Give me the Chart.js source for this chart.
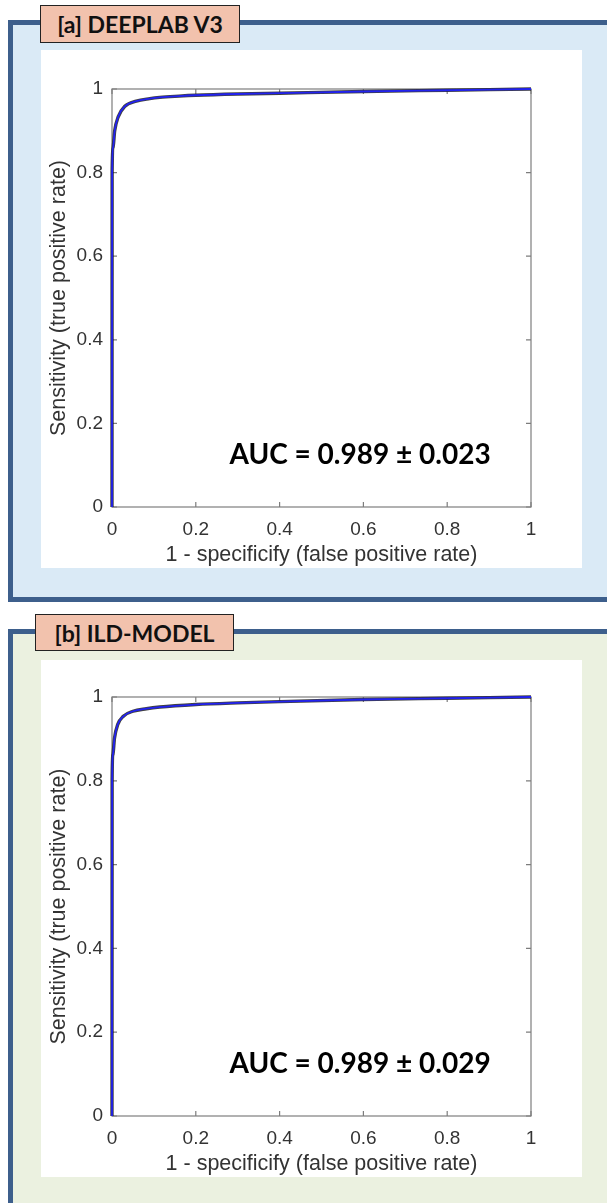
<!DOCTYPE html>
<html>
<head>
<meta charset="utf-8">
<script src="https://cdn.jsdelivr.net/npm/chart.js@4.4.0/dist/chart.umd.min.js"></script>
<style>
  html, body { margin: 0; padding: 0; background: #fff; width: 607px; height: 1203px; overflow: hidden; }
  .panel { position: absolute; box-sizing: border-box; border: 5px solid #3d5f8c; border-right: none; }
  #panelA { left: 8px; top: 20px; width: 610px; height: 582px; background: #daeaf6; }
  #panelB { left: 8px; top: 629px; width: 610px; height: 600px; background: #ebf1e0; border-bottom: none; }
  .tag {
    position: absolute; box-sizing: border-box; border: 1.5px solid #222; background: #f2c2ad;
    font: bold 23px Lato, sans-serif; color: #111;
    display: flex; align-items: center; justify-content: center;
  }
  #tagA { left: 40px; top: 5px; width: 200px; height: 38px; }
  #tagB { left: 35px; top: 614px; width: 199px; height: 37px; }
  .plot { position: absolute; background: #fff; }
  #plotA { left: 41px; top: 50px; width: 541px; height: 518px; }
  #plotB { left: 41px; top: 660px; width: 541px; height: 517px; }
</style>
</head>
<body>
<div class="panel" id="panelA"></div>
<div class="panel" id="panelB"></div>
<div class="tag" id="tagA">[a] DEEPLAB V3</div>
<div class="tag" id="tagB">[b] ILD-MODEL</div>
<div class="plot" id="plotA"><canvas id="rocA" width="541" height="518"></canvas></div>
<div class="plot" id="plotB"><canvas id="rocB" width="541" height="517"></canvas></div>

<script>
// --- DATA ---

// ROC curve, panel [a] DEEPLAB V3
const fprA = [0, 0.0003, 0.0024, 0.0064, 0.015, 0.03, 0.058, 0.09, 0.114, 0.16, 0.2, 0.3, 0.4, 0.6, 0.8, 1];
const tprA = [0, 0.80, 0.86, 0.90, 0.934, 0.958, 0.971, 0.977, 0.980, 0.983, 0.985, 0.988, 0.990, 0.994, 0.997, 1];

// ROC curve, panel [b] ILD-MODEL
const fprB = [0, 0.0003, 0.002, 0.006, 0.0135, 0.027, 0.05, 0.082, 0.114, 0.2, 0.3, 0.4, 0.6, 0.8, 1];
const tprB = [0, 0.80, 0.862, 0.902, 0.934, 0.954, 0.966, 0.972, 0.976, 0.982, 0.986, 0.989, 0.994, 0.997, 1];

// Axis ticks (same for x and y)
const tickValues = [0, 0.2, 0.4, 0.6, 0.8, 1];
const tickLabels = ['0', '0.2', '0.4', '0.6', '0.8', '1'];

const aucA = 'AUC = 0.989 ± 0.023';
const aucB = 'AUC = 0.989 ± 0.029';

// --- RENDERING ---

const TICK_LEN = 5;
const TICK_FONT = { family: 'Liberation Sans, Arial, sans-serif', size: 19 };
const TITLE_FONT = { family: 'Liberation Sans, Arial, sans-serif', size: 21.5 };

/**
 * MATLAB-style box with inward ticks on all four sides + AUC label.
 */
const matlabAxes = {
  id: 'matlabAxes',
  beforeDatasetsDraw(chart) {
    const { ctx, chartArea: a, scales: { x, y } } = chart;
    ctx.save();
    ctx.strokeStyle = '#7d7d7d';
    ctx.lineWidth = 1.2;
    ctx.strokeRect(a.left, a.top, a.right - a.left, a.bottom - a.top);
    ctx.beginPath();
    tickValues.forEach(v => {
      const px = x.getPixelForValue(v);
      const py = y.getPixelForValue(v);
      ctx.moveTo(px, a.bottom); ctx.lineTo(px, a.bottom - TICK_LEN);
      ctx.moveTo(px, a.top); ctx.lineTo(px, a.top + TICK_LEN);
      ctx.moveTo(a.left, py); ctx.lineTo(a.left + TICK_LEN, py);
      ctx.moveTo(a.right, py); ctx.lineTo(a.right - TICK_LEN, py);
    });
    ctx.stroke();
    ctx.restore();
  },
  afterDatasetsDraw(chart, args, opts) {
    const { ctx, scales: { x, y } } = chart;
    ctx.save();
    ctx.font = 'bold 28px Lato, sans-serif';
    ctx.fillStyle = '#000';
    ctx.textAlign = 'center';
    ctx.textBaseline = 'middle';
    ctx.fillText(opts.text, x.getPixelForValue(opts.x), y.getPixelForValue(opts.y));
    ctx.restore();
  }
};

function tickSetup(scale) {
  scale.ticks = tickValues.map(v => ({ value: v }));
}

function makeConfig(fpr, tpr, auc, padTop) {
  const points = fpr.map((v, i) => ({ x: v, y: tpr[i] }));
  return {
    type: 'line',
    data: {
      datasets: [
        // mean curve (drawn on top)
        { data: points, order: 0, borderColor: '#2222f0', borderWidth: 1.8, pointRadius: 0, cubicInterpolationMode: 'monotone', clip: 8 },
        // dark band of the individual folds
        { data: points, order: 1, borderColor: 'rgba(30,30,30,0.85)', borderWidth: 3.4, pointRadius: 0, cubicInterpolationMode: 'monotone', clip: 8 }
      ]
    },
    options: {
      responsive: false,
      animation: false,
      layout: { padding: { top: padTop, right: 51, left: 0, bottom: 0 } },
      plugins: {
        legend: { display: false },
        tooltip: { enabled: false },
        matlabAxes: { text: auc, x: 0.592, y: 0.124 }
      },
      scales: {
        x: {
          type: 'linear', min: 0, max: 1,
          afterBuildTicks: tickSetup,
          afterFit(scale) { scale.height = 61; },
          grid: { display: false, drawTicks: false },
          border: { display: false },
          ticks: { callback: (v, i) => tickLabels[i], color: '#333', font: TICK_FONT, padding: 11, maxRotation: 0 },
          title: { display: true, text: '1 - specificify (false positive rate)', color: '#333', font: TITLE_FONT, padding: { top: 0, bottom: 0 } }
        },
        y: {
          type: 'linear', min: 0, max: 1,
          afterBuildTicks: tickSetup,
          afterFit(scale) { scale.width = 71; },
          grid: { display: false, drawTicks: false },
          border: { display: false },
          ticks: { callback: (v, i) => tickLabels[i], color: '#333', font: TICK_FONT, padding: 9 },
          title: { display: true, text: 'Sensitivity (true positive rate)', color: '#333', font: TITLE_FONT, padding: { top: 5, bottom: 0 } }
        }
      }
    },
    plugins: [matlabAxes]
  };
}

new Chart(document.getElementById('rocA'), makeConfig(fprA, tprA, aucA, 39));
new Chart(document.getElementById('rocB'), makeConfig(fprB, tprB, aucB, 37));
</script>
</body>
</html>
